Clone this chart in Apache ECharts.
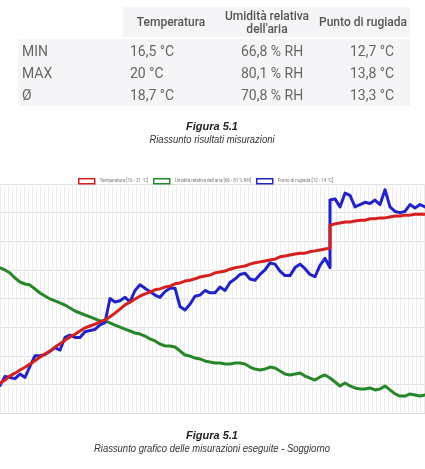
<!DOCTYPE html>
<html><head><meta charset="utf-8">
<script src="https://cdn.jsdelivr.net/npm/echarts@6/dist/echarts.min.js"></script>
<style>html,body{margin:0;padding:0;background:#fff}#c{width:425px;height:469px}</style>
</head><body><div id="c"></div>
<script>
// ---- table data ----
const tableHeaders = ['Temperatura', "Umidità relativa\ndell'aria", 'Punto di rugiada'];
const rowLabels = ['MIN', 'MAX', 'Ø'];
const tempStats = ['16,5 °C', '20 °C', '18,7 °C'];
const humStats = ['66,8 % RH', '80,1 % RH', '70,8 % RH'];
const dewStats = ['12,7 °C', '13,8 °C', '13,3 °C'];
const caption1 = ['Figura 5.1', 'Riassunto risultati misurazioni'];
const caption2 = ['Figura 5.1', 'Riassunto grafico delle misurazioni eseguite - Soggiorno'];

// ---- chart data ----
const seriesNames = ['Temperatura [16 - 21 °C]', "Umidità relativa dell'aria [66 - 81 % RH]", 'Punto di rugiada [12 - 14 °C]'];
const seriesRanges = [[16, 21], [66, 81], [12, 14]];
const times = [0,1,2,3,4,5,6,7,8,9,10,11,12,13,14,15,16,17,18,19,20,21,22,23,24,25,26,27,28,29,30,31,32,33,34,35,36,37,38,39,40,41,42,43,44,45,46,47,48,49,50,51,52,53,54,55,56,57,58,59,60,61,62,63,64,65,66,66,67,68,69,70,71,72,73,74,75,76,77,78,79,80,81,82,83,84,85];
const temperatura = [16.65,16.72,16.81,16.87,16.94,17.00,17.07,17.14,17.22,17.29,
  17.35,17.44,17.51,17.59,17.66,17.72,17.79,17.86,17.90,17.94,
  17.99,18.03,18.10,18.18,18.27,18.36,18.42,18.49,18.55,18.60,
  18.64,18.69,18.71,18.75,18.77,18.82,18.84,18.88,18.90,18.93,
  18.97,18.99,19.01,19.06,19.08,19.10,19.14,19.17,19.19,19.21,
  19.25,19.28,19.30,19.32,19.34,19.36,19.41,19.43,19.45,19.47,
  19.49,19.49,19.52,19.54,19.56,19.58,19.60,
  20.10,20.13,20.15,20.17,20.17,20.19,20.21,20.21,20.24,20.24,20.26,20.26,20.28,20.30,20.30,20.32,20.32,20.34,20.34,20.34];
const umidita = [75.50,75.37,75.17,74.84,74.58,74.45,74.38,74.12,73.86,73.66,
  73.47,73.34,73.21,73.07,72.88,72.68,72.55,72.42,72.29,72.16,
  72.03,72.03,71.90,71.76,71.63,71.50,71.37,71.24,71.17,71.04,
  70.85,70.72,70.52,70.39,70.39,70.32,70.06,69.80,69.73,69.60,
  69.54,69.41,69.34,69.28,69.28,69.21,69.21,69.28,69.28,69.21,
  69.01,68.88,68.82,68.88,69.01,68.95,68.75,68.55,68.49,68.55,
  68.62,68.42,68.29,68.16,68.36,68.49,68.29,
  68.29,68.03,67.77,67.97,67.77,67.64,67.57,67.57,67.64,67.51,67.57,67.77,67.51,67.25,67.11,67.11,67.25,67.18,67.11,67.18];
const rugiada = [12.24,12.32,12.31,12.30,12.34,12.31,12.41,12.50,12.50,12.51,
  12.54,12.57,12.55,12.66,12.68,12.66,12.66,12.71,12.72,12.73,
  12.77,12.79,13.00,12.97,12.98,13.01,12.97,13.07,13.12,13.09,
  13.06,13.03,13.01,13.06,13.09,13.09,12.93,12.90,12.95,13.02,
  13.03,13.07,13.05,13.05,13.10,13.07,13.14,13.17,13.21,13.22,
  13.17,13.16,13.21,13.25,13.31,13.30,13.24,13.20,13.20,13.27,
  13.30,13.26,13.21,13.19,13.29,13.35,13.27,
  13.86,13.87,13.80,13.92,13.90,13.80,13.82,13.84,13.83,13.86,13.82,13.95,13.80,13.76,13.75,13.76,13.82,13.79,13.82,13.80];

const colors = ['#d61f1f', '#27862a', '#2222c6'];
const seriesData = [temperatura, umidita, rugiada];

// ---- graphics: table + captions ----
const graphics = [];
graphics.push({type: 'rect', silent: true, shape: {x: 123, y: 7, width: 287, height: 30}, style: {fill: '#f5f5f7'}});
graphics.push({type: 'rect', silent: true, shape: {x: 18, y: 39, width: 392, height: 67}, style: {fill: '#f5f5f7'}});
const headerX = [171, 267, 363];
tableHeaders.forEach((h, i) => graphics.push({
  type: 'text', silent: true, x: headerX[i], y: 23,
  style: {text: h, fill: '#555', font: '500 12px Roboto', textAlign: 'center', textVerticalAlign: 'middle', lineHeight: 13}
}));
const colX = [22, 130, 241, 350];
const rowY = [52, 74, 96];
rowLabels.forEach((lab, r) => {
  [lab, tempStats[r], humStats[r], dewStats[r]].forEach((t, c) => graphics.push({
    type: 'text', silent: true, x: colX[c], y: rowY[r],
    style: {text: t, fill: '#666', font: '14px Roboto', textAlign: 'left', textVerticalAlign: 'middle'}
  }));
});
function caption(lines, y0) {
  graphics.push({type: 'text', silent: true, x: 212, y: y0,
    style: {text: lines[0], fill: '#222', font: 'italic bold 11px "Liberation Sans", Arial', textAlign: 'center', textVerticalAlign: 'middle'}});
  graphics.push({type: 'text', silent: true, x: 212, y: y0 + 13, scaleX: 0.86,
    style: {text: lines[1], fill: '#333', font: 'italic 11px "Liberation Sans", Arial', textAlign: 'center', textVerticalAlign: 'middle'}});
}
caption(caption1, 127);
caption(caption2, 436);

const chart = echarts.init(document.getElementById('c'), null, {renderer: 'canvas'});
chart.setOption({
  animation: false,
  backgroundColor: '#fff',
  graphic: graphics,
  legend: {
    left: 73, top: 173,
    itemWidth: 16, itemHeight: 5, itemGap: 5,
    icon: 'rect',
    textStyle: {fontSize: 4.5, color: '#777', fontFamily: 'Roboto'},
    data: seriesNames.map((n, i) => ({name: n, itemStyle: {color: '#fff', borderColor: colors[i], borderWidth: 1.5}}))
  },
  grid: {left: 0, right: 0, top: 184, bottom: 56},
  xAxis: {
    type: 'value', min: 0, max: 85, interval: 0.8,
    axisLine: {show: false}, axisTick: {show: false}, axisLabel: {show: false},
    splitLine: {show: true, lineStyle: {color: '#ececec', width: 1}}
  },
  yAxis: [
    {type: 'value', show: false, min: seriesRanges[0][0], max: seriesRanges[0][1]},
    {type: 'value', show: false, min: seriesRanges[1][0], max: seriesRanges[1][1]},
    {type: 'value', show: false, min: seriesRanges[2][0], max: seriesRanges[2][1]},
    {type: 'value', min: 0, max: 8, interval: 1,
      axisLine: {show: false}, axisTick: {show: false}, axisLabel: {show: false},
      splitLine: {show: true, lineStyle: {color: '#dedede', width: 1}}}
  ],
  series: [1, 2, 0].map(i => ({
    name: seriesNames[i], type: 'line', yAxisIndex: i,
    showSymbol: false, symbol: 'none',
    color: colors[i],
    lineStyle: {width: 3, color: colors[i], join: 'round', cap: 'round'},
    z: i === 0 ? 5 : 3,
    data: times.map((t, k) => [t, seriesData[i][k]])
  }))
});
</script></body></html>
